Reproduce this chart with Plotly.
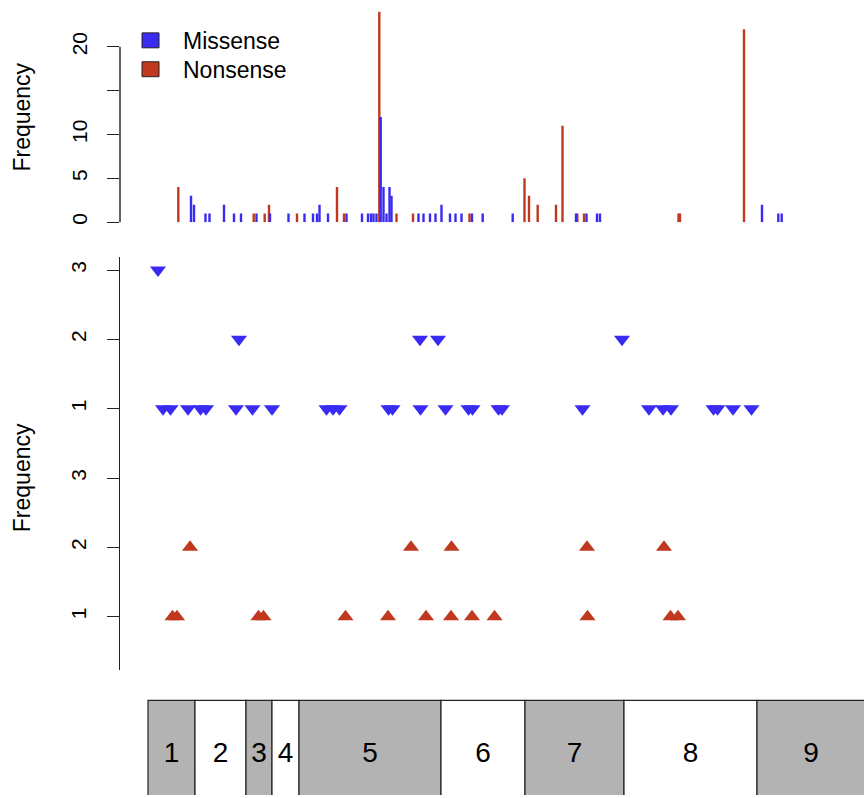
import plotly.graph_objects as go

W, H = 864, 798

# ---------------- data ----------------
# Top panel: frequency per position (histogram spikes)
missense_hist_pos = [191, 194, 205.5, 209.5, 224, 234, 241, 256.5, 270, 288.5, 304.5, 313, 317, 319.5,
                     328, 346.5, 362, 368, 371, 373.5, 376.5, 380.7, 383.5, 386.5, 389.5, 391.5,
                     418.5, 423.5, 430, 435.5, 441.5, 450, 455.5, 461.5, 472, 482.7, 512.7,
                     576, 586.5, 597, 600, 762, 778.3, 781.7]
missense_hist_freq = [3, 2, 1, 1, 2, 1, 1, 1, 1, 1, 1, 1, 1, 2,
                      1, 1, 1, 1, 1, 1, 1, 12, 4, 1, 4, 3,
                      1, 1, 1, 1, 2, 1, 1, 1, 1, 1, 1,
                      1, 1, 1, 1, 2, 1, 1]
nonsense_hist_pos = [178.3, 253.7, 264.7, 269, 297, 337, 344, 379.3, 396.5, 413, 469.5,
                     524.5, 529, 537.7, 556, 562.5, 577.3, 584, 678.5, 680, 744]
nonsense_hist_freq = [4, 1, 1, 2, 1, 4, 1, 24, 1, 1, 1,
                      5, 3, 2, 2, 11, 1, 1, 1, 1, 22]

# Middle panel: mutations per position (triangles)
missense_pos = [158,
                239, 420, 438, 622,
                163, 170.5, 188, 200.5, 206, 236, 252.5, 272, 326.5, 333, 339.5, 388.5, 392.5,
                420.5, 445.5, 468.5, 472.5, 498.5, 502, 582.5, 649, 663, 671, 713.5, 717.5, 733, 751.5]
missense_count = [3,
                  2, 2, 2, 2,
                  1, 1, 1, 1, 1, 1, 1, 1, 1, 1, 1, 1, 1,
                  1, 1, 1, 1, 1, 1, 1, 1, 1, 1, 1, 1, 1, 1]
nonsense_pos = [190, 411, 451.5, 587, 664,
                172.5, 177, 258.5, 263.5, 345.5, 388, 426, 451, 472, 494.5, 587.5, 670.5, 678]
nonsense_count = [2, 2, 2, 2, 2,
                  1, 1, 1, 1, 1, 1, 1, 1, 1, 1, 1, 1, 1]

# Bottom panel: exons
exon_labels = ["1", "2", "3", "4", "5", "6", "7", "8", "9"]
exon_starts = [148, 195, 246, 272, 299, 441, 525, 624, 757]
exon_ends = [195, 246, 272, 299, 441, 525, 624, 757, 865]

hist_ticks = [0, 5, 10, 15, 20]
hist_ticktext = ["0", "5", "10", "", "20"]
count_ticks = [1, 2, 3]

# ---------------- styles ----------------
BLUE = "#3A2BF2"
RED = "#C0391F"
GRAY = "#B3B3B3"
AXC = "#222222"
FONT = "Liberation Sans, Arial, Helvetica, sans-serif"

MISSENSE_OFFSET = 3  # missense counts drawn above the nonsense block


def py(pix):
    """pixel row -> paper y"""
    return 1 - pix / H


fig = go.Figure()

# top: histogram spikes
fig.add_trace(go.Bar(x=nonsense_hist_pos, y=nonsense_hist_freq, width=2.4,
                     marker=dict(color=RED, line=dict(width=0)),
                     xaxis="x", yaxis="y", showlegend=False, hoverinfo="x+y"))
fig.add_trace(go.Bar(x=missense_hist_pos, y=missense_hist_freq, width=2.4,
                     marker=dict(color=BLUE, line=dict(width=0)),
                     xaxis="x", yaxis="y", showlegend=False, hoverinfo="x+y"))

# middle: triangles
fig.add_trace(go.Scatter(x=missense_pos, y=[c + MISSENSE_OFFSET for c in missense_count],
                         mode="markers", cliponaxis=False,
                         marker=dict(symbol="triangle-down", size=14, color=BLUE, line=dict(width=0)),
                         xaxis="x", yaxis="y2", showlegend=False))
fig.add_trace(go.Scatter(x=nonsense_pos, y=nonsense_count,
                         mode="markers", cliponaxis=False,
                         marker=dict(symbol="triangle-up", size=14, color=RED, line=dict(width=0)),
                         xaxis="x", yaxis="y2", showlegend=False))

# bottom: exon boxes
centers = [(s + e) / 2 for s, e in zip(exon_starts, exon_ends)]
widths = [e - s for s, e in zip(exon_starts, exon_ends)]
colors = [GRAY if i % 2 == 0 else "white" for i in range(len(exon_labels))]
fig.add_trace(go.Bar(x=centers, y=[1] * len(centers), base=0, width=widths,
                     marker=dict(color=colors, line=dict(color=AXC, width=1.2)),
                     xaxis="x", yaxis="y3", showlegend=False, hoverinfo="text",
                     hovertext=["Exon " + l for l in exon_labels]))
fig.add_trace(go.Scatter(x=centers, y=[0.475] * len(centers), mode="text", text=exon_labels,
                         textfont=dict(size=28, color="black", family=FONT),
                         xaxis="x", yaxis="y3", showlegend=False, hoverinfo="skip"))

# ---------------- layout ----------------
px_per_unit = 8.8
top_base_px = 223
top_top_px = 5

ax_common = dict(showgrid=False, zeroline=False, ticks="outside", ticklen=12, tickwidth=1.4,
                 tickcolor=AXC, tickangle=-90, tickfont=dict(size=21, color="black", family=FONT),
                 ticklabelstandoff=12)

fig.update_layout(
    width=W, height=H,
    margin=dict(l=0, r=0, t=0, b=0),
    paper_bgcolor="white", plot_bgcolor="white",
    barmode="overlay",
    font=dict(family=FONT, color="black"),
    xaxis=dict(domain=[120 / W, 1], range=[120, W], visible=False, anchor="y3"),
    yaxis=dict(domain=[py(top_base_px), py(top_top_px)],
               range=[0, (top_base_px - top_top_px) / px_per_unit],
               tickvals=hist_ticks, ticktext=hist_ticktext, showline=False, anchor="x",
               **ax_common),
    yaxis2=dict(domain=[py(673), py(258)], range=[0.224, 6.187],
                tickvals=[c for c in count_ticks] + [c + MISSENSE_OFFSET for c in count_ticks],
                ticktext=[str(c) for c in count_ticks] * 2,
                showline=True, linecolor=AXC, linewidth=1.4, anchor="x",
                **ax_common),
    yaxis3=dict(domain=[0, py(695)], range=[0.095, 1.076], visible=False, anchor="x"),
    shapes=[
        # top axis line from 0 to 20
        dict(type="line", xref="paper", yref="paper", x0=120 / W, x1=120 / W,
             y0=py(top_base_px), y1=py(top_base_px - 20 * px_per_unit),
             line=dict(color=AXC, width=1.4)),
        # legend keys
        dict(type="rect", xref="paper", yref="paper", x0=142 / W, x1=159 / W,
             y0=py(48), y1=py(33), fillcolor=BLUE, line=dict(color=AXC, width=1)),
        dict(type="rect", xref="paper", yref="paper", x0=142 / W, x1=159 / W,
             y0=py(77), y1=py(62), fillcolor=RED, line=dict(color=AXC, width=1)),
    ],
    annotations=[
        dict(text="Missense", xref="paper", yref="paper", x=181 / W, y=py(41),
             xanchor="left", yanchor="middle", showarrow=False, font=dict(size=23)),
        dict(text="Nonsense", xref="paper", yref="paper", x=181 / W, y=py(70),
             xanchor="left", yanchor="middle", showarrow=False, font=dict(size=23)),
        dict(text="Frequency", xref="paper", yref="paper", x=22 / W, y=py(118),
             xanchor="center", yanchor="middle", textangle=-90, showarrow=False,
             font=dict(size=23)),
        dict(text="Frequency", xref="paper", yref="paper", x=22 / W, y=py(480),
             xanchor="center", yanchor="middle", textangle=-90, showarrow=False,
             font=dict(size=23)),
    ],
)

fig.write_html("out.html", config={"displayModeBar": False},
               post_script="document.body.style.margin='0';document.body.style.padding='0';")
